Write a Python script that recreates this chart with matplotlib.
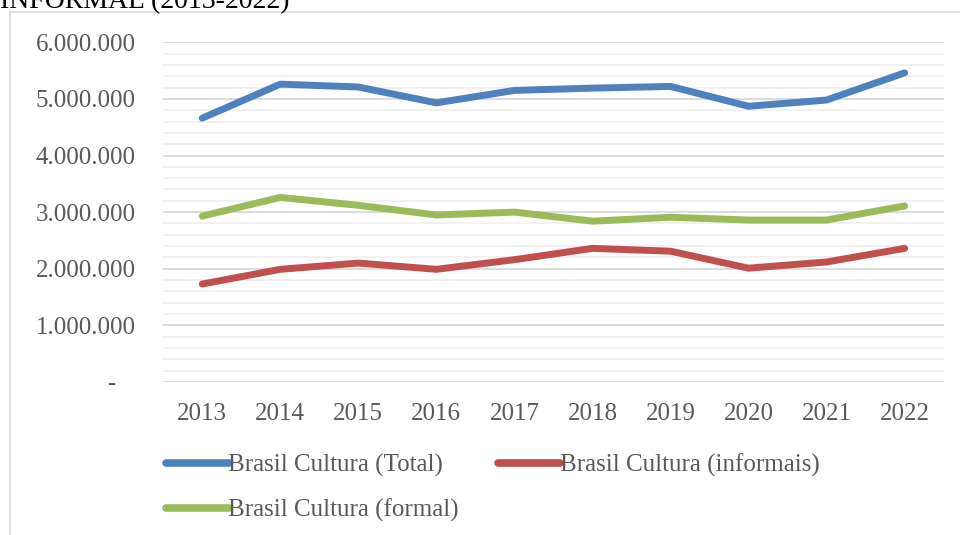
import matplotlib.pyplot as plt
from matplotlib.patches import Rectangle
from matplotlib.ticker import MultipleLocator, FuncFormatter

# dados
anos = [2013, 2014, 2015, 2016, 2017, 2018, 2019, 2020, 2021, 2022]
total = [4660000, 5260000, 5210000, 4930000, 5150000, 5190000, 5220000, 4870000, 4980000, 5460000]
informais = [1730000, 1990000, 2100000, 1990000, 2160000, 2360000, 2310000, 2010000, 2120000, 2360000]
formal = [2930000, 3260000, 3120000, 2950000, 3000000, 2840000, 2910000, 2860000, 2860000, 3110000]

plt.rcParams['font.family'] = ['Liberation Serif', 'DejaVu Serif']

fig = plt.figure(figsize=(9.6, 5.35), dpi=100)
ax = fig.add_axes([0.170, 0.286, 0.813, 0.635])

# moldura do gráfico
fig.patches.append(Rectangle((10 / 960, -0.05), 1.2, 1 - 12 / 535 + 0.05,
                             transform=fig.transFigure, fill=False,
                             edgecolor='#d9d9d9', linewidth=1.2))

fig.text(0.0, 1 - 8 / 535, 'INFORMAL (2013-2022)', fontsize=20,
         color='black', ha='left', va='baseline')

estilo = dict(lw=5, solid_capstyle='round', solid_joinstyle='round')
l1, = ax.plot(anos, total, color='#4F81BD', label='Brasil Cultura (Total)', **estilo)
l2, = ax.plot(anos, informais, color='#C0504D', label='Brasil Cultura (informais)', **estilo)
l3, = ax.plot(anos, formal, color='#9BBB59', label='Brasil Cultura (formal)', **estilo)

ax.set_ylim(0, 6000000)
ax.set_xlim(2012.5, 2022.5)
ax.set_xticks(anos)
ax.yaxis.set_major_locator(MultipleLocator(1000000))
ax.yaxis.set_minor_locator(MultipleLocator(200000))


def fmt(v, pos):
    if v == 0:
        return '-   '
    return f'{int(v):,}'.replace(',', '.')


ax.yaxis.set_major_formatter(FuncFormatter(fmt))
ax.grid(True, which='major', axis='y', color='#d9d9d9', lw=1.3)
ax.grid(True, which='minor', axis='y', color='#f0f0f0', lw=1.3)
ax.set_axisbelow(True)
for s in ax.spines.values():
    s.set_visible(False)
ax.tick_params(axis='both', which='both', length=0, labelsize=18, colors='#595959')
ax.tick_params(axis='y', pad=20)
ax.tick_params(axis='x', pad=15)

leg = fig.legend([l1, l3, l2], [l1.get_label(), l3.get_label(), l2.get_label()],
                 ncol=2, loc='upper left', bbox_to_anchor=(166 / 960, 1 - 454 / 535),
                 frameon=False, fontsize=18, handlelength=2.5, handletextpad=0.0,
                 columnspacing=1.55, labelspacing=0.85, borderaxespad=0, borderpad=0)
for t in leg.get_texts():
    t.set_color('#595959')
for h in leg.legend_handles:
    h.set_linewidth(5.5)

fig.savefig('out.png', dpi=100)
